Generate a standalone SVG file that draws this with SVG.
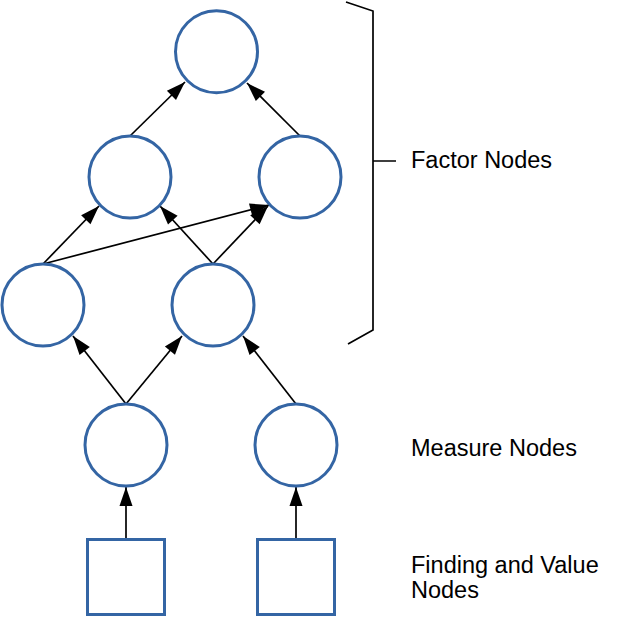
<svg xmlns="http://www.w3.org/2000/svg" width="617" height="617" viewBox="0 0 617 617">
<style>
.n{fill:#fff;stroke:#3465a4;stroke-width:3}
.e{stroke:#000;stroke-width:1.7;fill:none}
.t{font-family:"Liberation Sans",Arial,sans-serif;font-size:23.5px;fill:#000}
</style>
<defs>
<marker id="a" viewBox="0 0 10 10" refX="10" refY="5" markerWidth="10" markerHeight="10" markerUnits="userSpaceOnUse" orient="auto" overflow="visible">
<path d="M-9,-1.5 L10,5 L-9,11.5 Z" fill="#000"/>
</marker>
</defs>
<rect width="617" height="617" fill="#fff"/>
<g id="connectors">
<line class="e" x1="130" y1="136" x2="185" y2="82" marker-end="url(#a)"/>
<line class="e" x1="300" y1="136" x2="247" y2="83" marker-end="url(#a)"/>
<line class="e" x1="43" y1="264" x2="99" y2="206" marker-end="url(#a)"/>
<line class="e" x1="43" y1="264" x2="269" y2="205" marker-end="url(#a)"/>
<line class="e" x1="213" y1="264" x2="160" y2="206" marker-end="url(#a)"/>
<line class="e" x1="213" y1="264" x2="268" y2="206" marker-end="url(#a)"/>
<line class="e" x1="126" y1="404" x2="73" y2="336" marker-end="url(#a)"/>
<line class="e" x1="126" y1="404" x2="182" y2="336" marker-end="url(#a)"/>
<line class="e" x1="296" y1="404" x2="243" y2="336" marker-end="url(#a)"/>
<line class="e" x1="126" y1="539" x2="126" y2="487" marker-end="url(#a)"/>
<line class="e" x1="296" y1="539" x2="296" y2="487" marker-end="url(#a)"/>
</g>
<g id="top"><circle class="n" cx="216.5" cy="51.7" r="41"/></g>
<g id="f2l"><circle class="n" cx="130" cy="177" r="41"/></g>
<g id="f2r"><circle class="n" cx="300" cy="177" r="41"/></g>
<g id="f3l"><circle class="n" cx="43" cy="305" r="41"/></g>
<g id="f3r"><circle class="n" cx="213" cy="305" r="41"/></g>
<g id="m1"><circle class="n" cx="126" cy="445" r="41"/></g>
<g id="m2"><circle class="n" cx="296" cy="445" r="41"/></g>
<g id="v1"><rect class="n" x="87.5" y="539.5" width="77" height="75"/></g>
<g id="v2"><rect class="n" x="257.5" y="539.5" width="77" height="75"/></g>
<g id="bracket">
<path class="e" d="M346,2 L373,11 L373,330 L348,344 M373,161 L396,161"/>
</g>
<g id="labels">
<text class="t" x="411" y="168">Factor Nodes</text>
<text class="t" x="411" y="455.5">Measure Nodes</text>
<text class="t" x="411" y="573">Finding and Value</text>
<text class="t" x="411" y="598">Nodes</text>
</g>
</svg>
